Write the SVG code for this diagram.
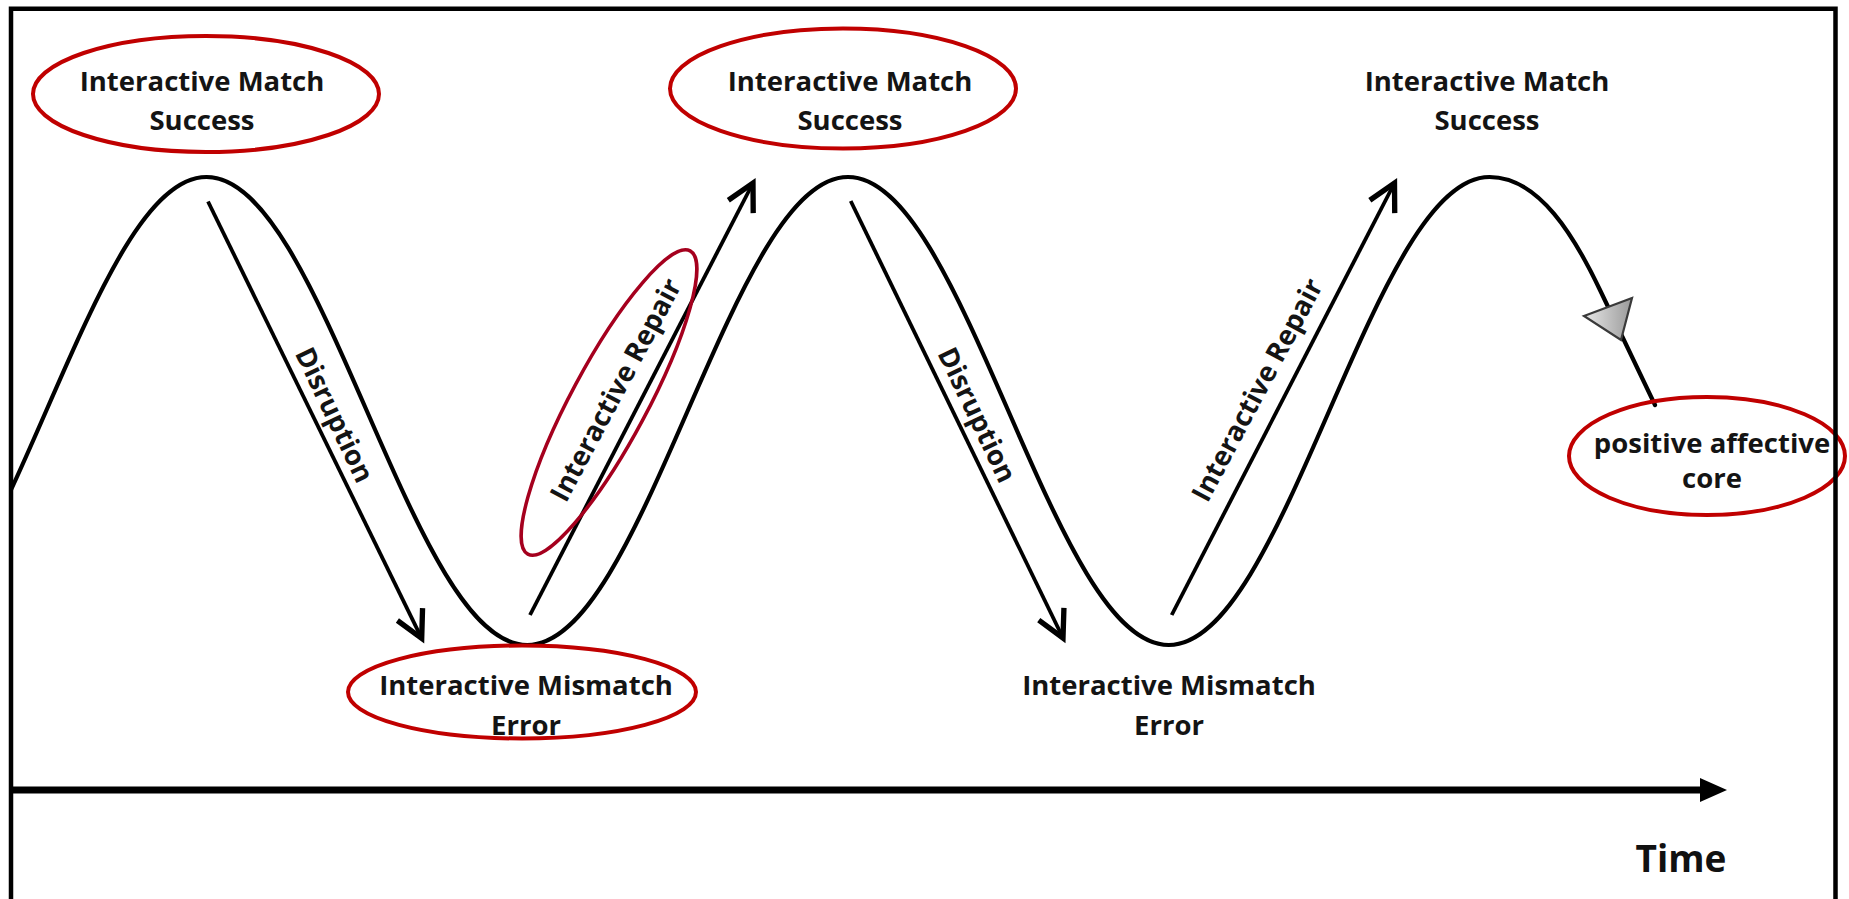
<svg xmlns="http://www.w3.org/2000/svg" width="1849" height="899" viewBox="0 0 1849 899">
  <style>
    .lbl { font-family: "Open Sans", "Liberation Sans", sans-serif; font-weight: 700; font-size: 27.5px; fill: #141414; text-anchor: middle; }
    .time { font-family: "Open Sans", "Liberation Sans", sans-serif; font-weight: 700; font-size: 37px; fill: #111; text-anchor: middle; }
    .ring { fill: none; stroke: #C00000; stroke-width: 4; }
    .ring2 { fill: none; stroke: #A5001E; stroke-width: 3.5; }
    .arrow { fill: none; stroke: #000; stroke-width: 3.8; marker-end: url(#chev); }
    .wave { fill: none; stroke: #000; stroke-width: 4.2; stroke-linecap: round; }
  </style>
  <defs>
    <marker id="chev" markerUnits="userSpaceOnUse" markerWidth="40" markerHeight="40" viewBox="-25 -15 30 30" refX="0" refY="0" orient="auto">
      <path d="M -20 -10.5 L 0 0 L -20 10.5" fill="none" stroke="#000" stroke-width="4" stroke-linejoin="miter"/>
    </marker>
    <linearGradient id="tri" x1="0" y1="0" x2="1" y2="0">
      <stop offset="0" stop-color="#e8e8e8"/>
      <stop offset="1" stop-color="#9a9a9a"/>
    </linearGradient>
    <clipPath id="inner">
      <rect x="11" y="9" width="1825" height="890"/>
    </clipPath>
  </defs>
  <rect x="0" y="0" width="1849" height="899" fill="#fff"/>

  <g id="wave">
    <path class="wave" clip-path="url(#inner)" d="M -114.25 645 C -56.53 645, -7.49 533.87, 46.125 411 C 99.735 288.13, 148.785 177, 206.5 177 C 264.22 177, 313.26 288.13, 366.875 411 C 420.485 533.87, 469.535 645, 527.25 645 C 584.97 645, 634.01 533.87, 687.625 411 C 741.235 288.13, 790.285 177, 848 177 C 905.72 177, 954.76 288.13, 1008.375 411 C 1061.985 533.87, 1111.035 645, 1168.75 645 C 1226.47 645, 1275.51 533.87, 1329.125 411 C 1382.735 288.13, 1431.785 177, 1489.5 177 C 1539.5 177, 1575 237.5, 1600 290 L 1655 405"/>
    <polygon points="1584,316 1632,298 1621,340" fill="url(#tri)" stroke="#3a3a3a" stroke-width="2.2" stroke-linejoin="miter"/>
  </g>

  <g id="connectors">
    <line class="arrow" x1="208" y1="201.5" x2="421.7" y2="638.3"/>
    <line class="arrow" x1="530" y1="615" x2="753" y2="183"/>
    <line class="arrow" x1="850.7" y1="201" x2="1063" y2="638"/>
    <line class="arrow" x1="1171.7" y1="615" x2="1394.5" y2="183"/>
    <g id="time-axis">
      <line x1="11" y1="790" x2="1704" y2="790" stroke="#000" stroke-width="7"/>
      <polygon points="1700,778 1727,790 1700,802" fill="#000"/>
    </g>
  </g>

  <g id="disruption-1">
    <text class="lbl" transform="translate(326,419) rotate(64.5)">Disruption</text>
  </g>
  <g id="disruption-2">
    <text class="lbl" transform="translate(968.5,419) rotate(64.5)">Disruption</text>
  </g>
  <g id="repair-1">
    <ellipse class="ring2" cx="0" cy="0" rx="172" ry="38" transform="translate(609,402.5) rotate(-61.85)"/>
    <text class="lbl" transform="translate(624,394.5) rotate(-62)">Interactive Repair</text>
  </g>
  <g id="repair-2">
    <text class="lbl" transform="translate(1265.5,394.5) rotate(-62)">Interactive Repair</text>
  </g>

  <g id="match-1">
    <ellipse class="ring" cx="206" cy="94" rx="173" ry="58"/>
    <text class="lbl" x="202" y="91">Interactive Match</text>
    <text class="lbl" x="202" y="130">Success</text>
  </g>
  <g id="match-2">
    <ellipse class="ring" cx="843" cy="88.5" rx="173" ry="60"/>
    <text class="lbl" x="850" y="91">Interactive Match</text>
    <text class="lbl" x="850" y="130">Success</text>
  </g>
  <g id="match-3">
    <text class="lbl" x="1487" y="91">Interactive Match</text>
    <text class="lbl" x="1487" y="130">Success</text>
  </g>
  <g id="mismatch-1">
    <ellipse class="ring" cx="522" cy="692" rx="174" ry="46.5"/>
    <text class="lbl" x="526" y="695">Interactive Mismatch</text>
    <text class="lbl" x="526" y="735">Error</text>
  </g>
  <g id="mismatch-2">
    <text class="lbl" x="1169" y="695">Interactive Mismatch</text>
    <text class="lbl" x="1169" y="735">Error</text>
  </g>
  <g id="positive-core">
    <ellipse class="ring" cx="1707" cy="456" rx="138" ry="59"/>
    <text class="lbl" x="1712" y="453">positive affective</text>
    <text class="lbl" x="1712" y="488">core</text>
  </g>
  <g id="time-label">
    <text class="time" x="1681" y="872">Time</text>
  </g>

  <g id="frame">
    <path d="M 11 905 L 11 8.7 L 1835.5 8.7 L 1835.5 905" fill="none" stroke="#000" stroke-width="4.5" stroke-linejoin="miter"/>
  </g>
</svg>
